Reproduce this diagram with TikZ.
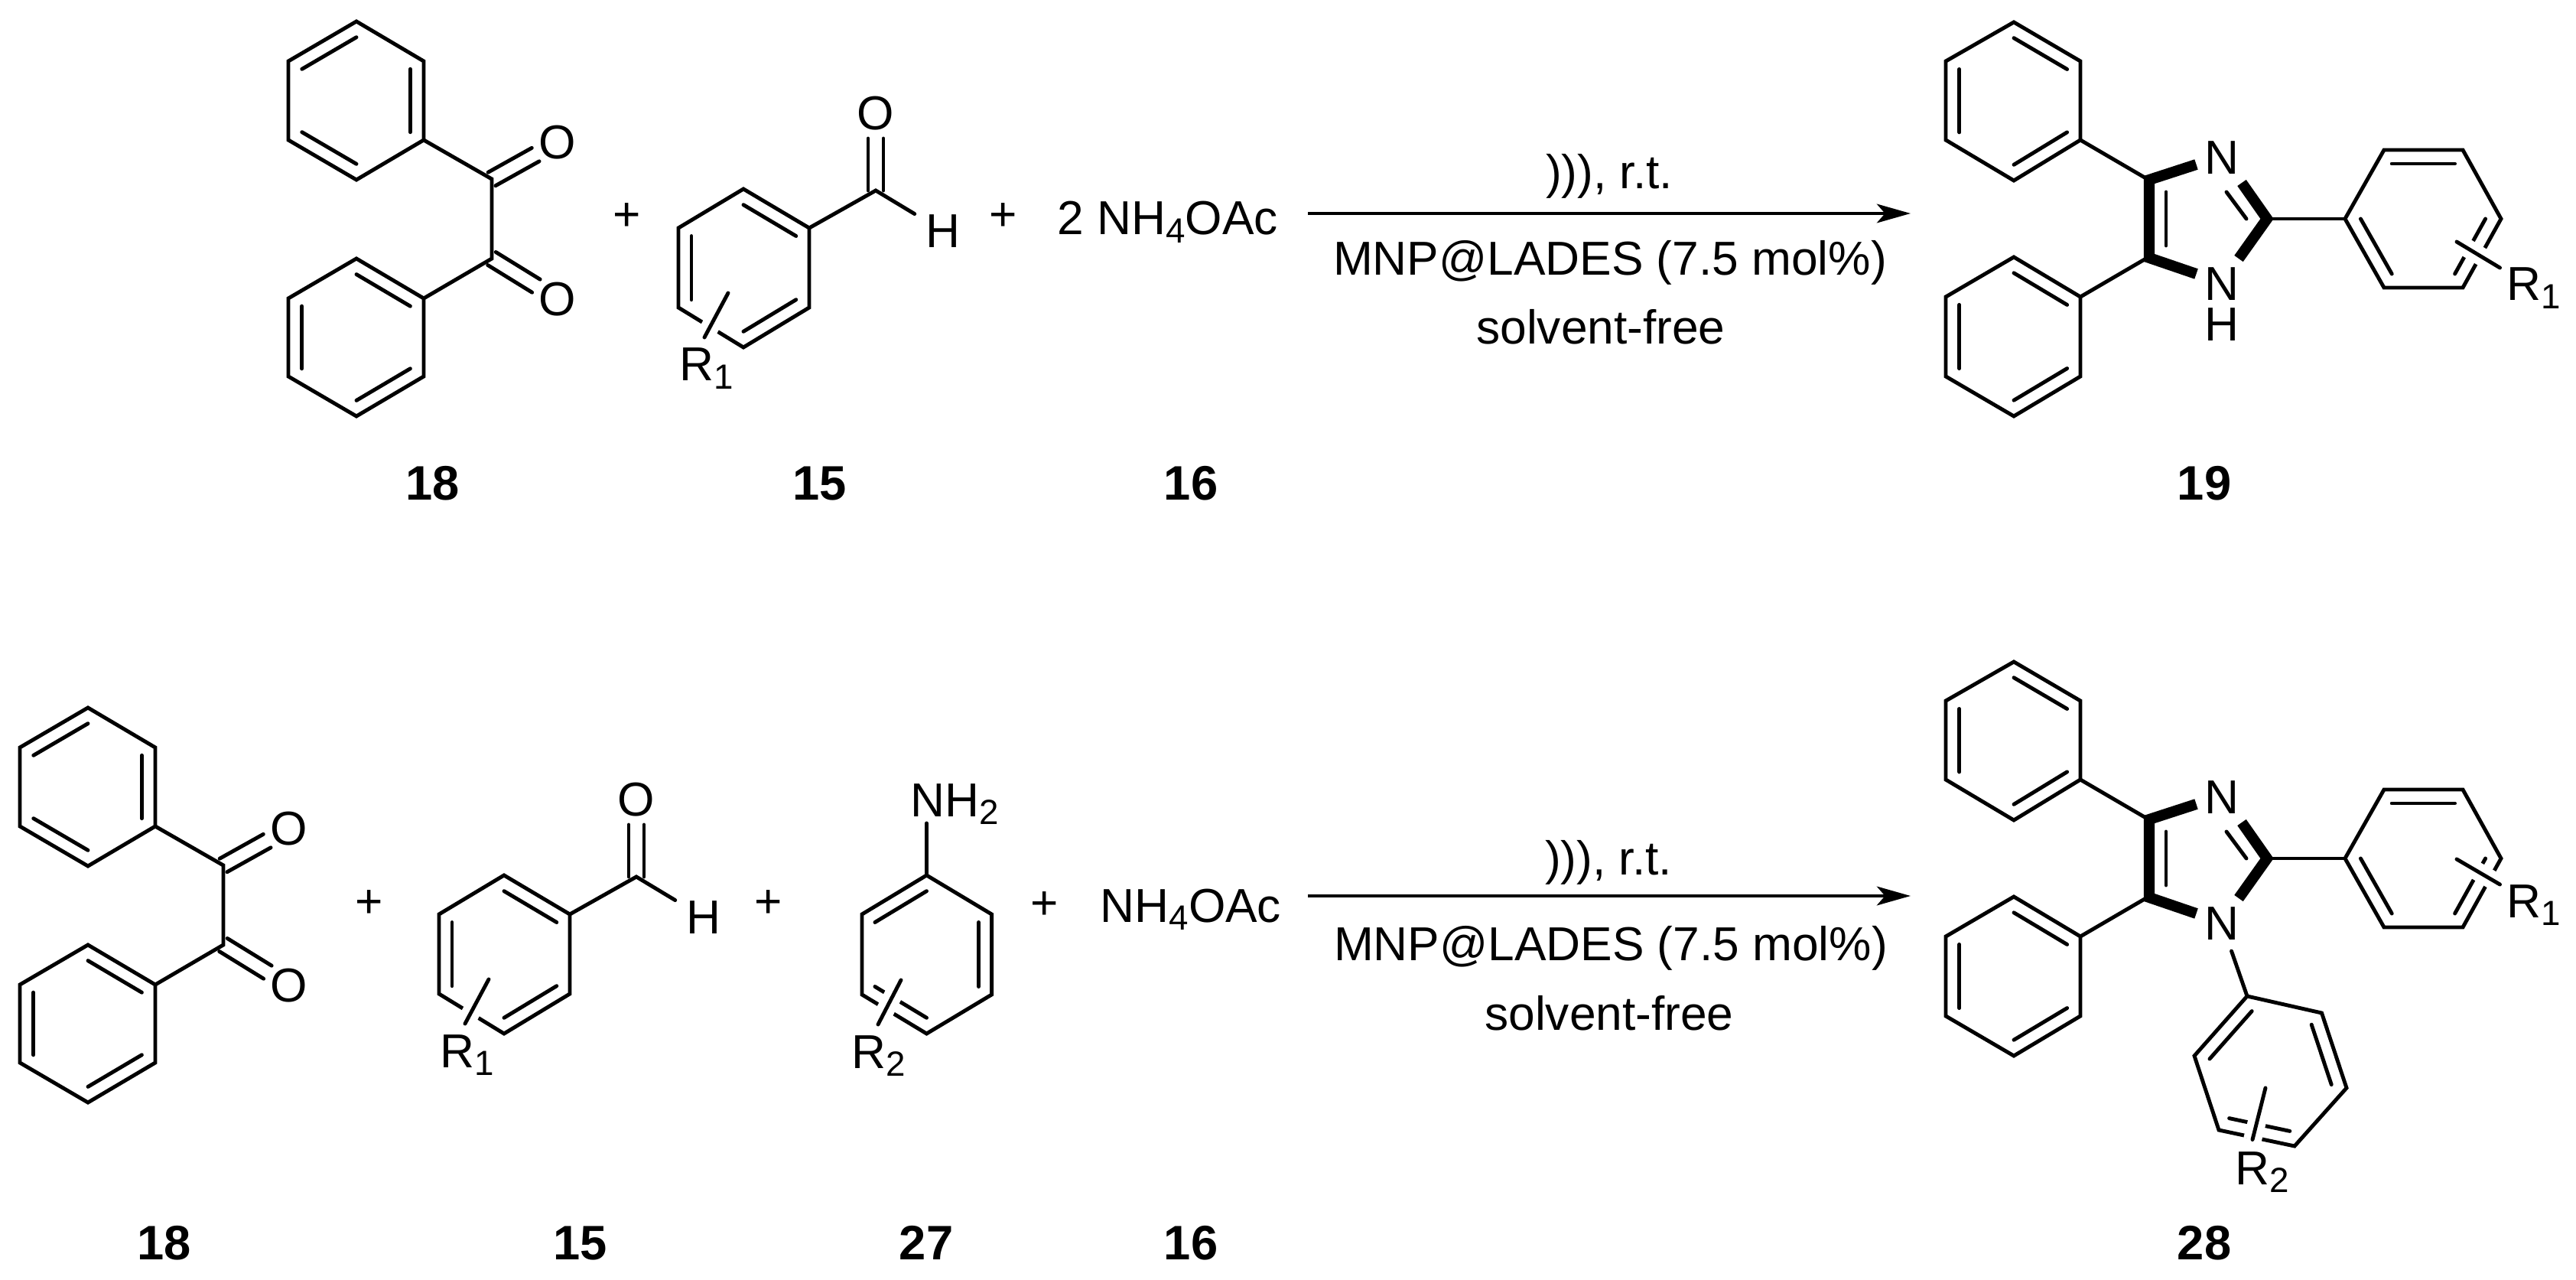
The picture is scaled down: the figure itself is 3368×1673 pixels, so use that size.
\documentclass[tikz,border=0pt]{standalone}
\usepackage{fontspec}
\setmainfont{Liberation Sans}
\usepackage{tikz}
\usetikzlibrary{calc,arrows.meta}
\newcommand{\chemfont}{\fontsize{17.7}{20}\selectfont}
\newcommand{\chemsub}[1]{\raisebox{-1.05mm}{\fontsize{13}{14}\selectfont #1}}
\tikzset{%
    bond/.style={line width=1.4pt, line cap=round},
    boldbond/.style={line width=4pt},
    subbond/.style={bond, preaction={draw=white, line width=6.8pt, line cap=butt}},
    cobond/.style={bond, shorten >=0.33cm},
    atom/.style={font=\chemfont, inner sep=0pt},
    group/.style={font=\chemfont, inner sep=0pt, anchor=base west},
    cond/.style={font=\chemfont, inner sep=0pt, anchor=base},
    cpd/.style={font=\fontsize{18}{20}\selectfont\bfseries, inner sep=0pt, anchor=base},
    rarrow/.style={line width=1.4pt, -{Stealth[length=12.5pt,width=7pt,inset=3pt]}}
}
% name, six corners, then the inner lines as pairs of corners
\newcommand{\ring}[8]{%
    \coordinate (#1-1) at (#2);
    \coordinate (#1-2) at (#3);
    \coordinate (#1-3) at (#4);
    \coordinate (#1-4) at (#5);
    \coordinate (#1-5) at (#6);
    \coordinate (#1-6) at (#7);
    \coordinate (#1-c) at ($(#1-1)!0.5!(#1-4)$);
    \draw[bond] (#1-1)--(#1-2)--(#1-3)--(#1-4)--(#1-5)--(#1-6)--cycle;
    \foreach \p/\q in {#8}
    {
    \draw[bond] ($(#1-\p)!0.2!(#1-c)$)--($(#1-\q)!0.2!(#1-c)$);
    }
}
\newcommand{\twobond}[2]{%
    \draw[cobond] ($(#1)!0.1cm!90:(#2)$)--($(#2)!0.1cm!-90:(#1)$);
    \draw[cobond] ($(#1)!0.1cm!-90:(#2)$)--($(#2)!0.1cm!90:(#1)$);
}

\begin{document}
\begin{tikzpicture}[x=0.01cm,y=-0.01cm]
    \useasboundingbox (0,0) rectangle (3368,1673);
    % diketone
    \foreach \n/\dx/\dy in {t/0/0,u/-351/897}
    {
    \begin{scope}[shift={(\dx,\dy)}]
    \ring{\n A}{466,28}{554,80}{554,183}{466,235}{377,183}{377,80}{6/1,2/3,4/5}
    \ring{\n B}{466,338}{554,390}{554,492}{466,544}{377,492}{377,390}{1/2,3/4,5/6}
    \coordinate (\n C1) at (643,234);
    \coordinate (\n C2) at (643,338);
    \node[atom] (\n O1) at (729,186) {O};
    \node[atom] (\n O2) at (729,391) {O};
    \draw[bond] (\n A-3)--(\n C1)--(\n C2)--(\n B-2);
    \twobond{\n C1}{\n O1}
    \twobond{\n C2}{\n O2}
    \end{scope}
    }
    % aldehyde
    \foreach \n/\dx/\dy in {t/0/0,u/-313/897}
    {
    \begin{scope}[shift={(\dx,\dy)}]
    \ring{\n D}{972,247}{1058,298}{1058,402}{972,454}{887,402}{887,298}{1/2,3/4,5/6}
    \coordinate (\n C3) at (1145,249);
    \node[atom] (\n O3) at (1145,148) {O};
    \node[atom, inner sep=4pt] (\n H3) at (1233,302) {H};
    \draw[bond] (\n D-2)--(\n C3)--(\n H3);
    \twobond{\n C3}{\n O3}
    \coordinate (\n r1a) at (952,383);
    \coordinate (\n r1b) at (921,441);
    \draw[subbond] (\n r1a)--(\n r1b);
    \node[group] (\n R1) at (888,498) {R\chemsub{1}};
    \end{scope}
    }
    % imidazole
    \foreach \n/\dy in {t/0,u/836}
    {
    \begin{scope}[shift={(0,\dy)}]
    \ring{\n E}{2633,29}{2720,80}{2720,183}{2633,236}{2544,183}{2544,80}{1/2,3/4,5/6}
    \ring{\n F}{2633,336}{2720,388}{2720,492}{2633,544}{2544,492}{2544,388}{1/2,3/4,5/6}
    \ring{\n G}{3066,286}{3117,196}{3220,196}{3270,286}{3220,376}{3117,376}{2/3,4/5,6/1}
    \coordinate (\n C4) at (2804,232);
    \coordinate (\n C5) at (2804,339);
    \coordinate (\n C6) at (2971,286);
    \coordinate (\n p1) at (2871.5,215);
    \coordinate (\n p2) at (2810,235);
    \coordinate (\n p3) at (2810,337);
    \coordinate (\n p4) at (2871.5,358);
    \coordinate (\n q1) at (2931,239);
    \coordinate (\n q2) at (2964,286);
    \coordinate (\n q3) at (2927,338);
    \coordinate (\n s1) at (2832,251);
    \coordinate (\n s2) at (2832,321);
    \coordinate (\n s3) at (2911,251);
    \coordinate (\n s4) at (2937,286);
    \node[atom] (\n N3) at (2905,206) {N};
    \node[atom] (\n N1) at (2905,371) {N};
    \draw[bond] (\n E-3)--(\n C4);
    \draw[bond] (\n F-2)--(\n C5);
    \draw[bond] (\n C6)--(\n G-1);
    \draw[boldbond] (\n p1)--(\n p2)--(\n p3)--(\n p4);
    \draw[boldbond] (\n q1)--(\n q2)--(\n q3);
    \draw[bond] (\n s1)--(\n s2);
    \draw[bond] (\n s3)--(\n s4);
    \end{scope}
    }
    \node[atom] (tH1) at (2905,424) {H};
    \coordinate (tr2a) at (3212,316);
    \coordinate (tr2b) at (3268.5,350);
    \draw[subbond] (tr2a)--(tr2b);
    \node[group] (tR2) at (3277,393) {R\chemsub{1}};
    \coordinate (ur2a) at (3212,1123);
    \coordinate (ur2b) at (3268.5,1156);
    \draw[subbond] (ur2a)--(ur2b);
    \node[group] (uR2) at (3277,1199) {R\chemsub{1}};
    % N-aryl
    \ring{uH}{2938,1302}{3035.5,1324}{3068,1422}{3000,1498}{2901,1477}{2869,1380}{1/6,2/3,4/5}
    \draw[bond, shorten <=4.2pt] (uN1)--(uH-1);
    \coordinate (ur3a) at (2962,1422);
    \coordinate (ur3b) at (2945,1489.5);
    \draw[subbond] (ur3a)--(ur3b);
    \node[group] (uR3) at (2922,1548) {R\chemsub{2}};
    % aniline
    \ring{uK}{1211.5,1144}{1296.6,1195}{1296.6,1300}{1211.5,1351}{1127,1300}{1127,1195}{1/6,2/3,4/5}
    \node[group] (uNH) at (1190,1067) {NH\chemsub{2}};
    \coordinate (uNHb) at (1211.5,1076);
    \draw[bond] (uNHb)--(uK-1);
    \coordinate (ur4a) at (1178,1281);
    \coordinate (ur4b) at (1148,1339);
    \draw[subbond] (ur4a)--(ur4b);
    \node[group] (uR4) at (1113,1396) {R\chemsub{2}};
    % plus signs and ammonium acetate
    \node[atom] (tplus1) at (820,284) {+};
    \node[atom] (tplus2) at (1312,284) {+};
    \node[atom] (uplus1) at (483,1182) {+};
    \node[atom] (uplus2) at (1005,1182) {+};
    \node[atom] (uplus3) at (1366,1184) {+};
    \node[group] (tAm) at (1382,306.5) {2 NH\chemsub{4}OAc};
    \node[group] (uAm) at (1438,1205) {NH\chemsub{4}OAc};
    % arrows
    \coordinate (tArr1) at (1710,279);
    \coordinate (tArr2) at (2498,279);
    \draw[rarrow] (tArr1)--(tArr2);
    \node[cond] (tCa) at (2104,247) {))), r.t.};
    \node[cond] (tCb) at (2105,360) {MNP@LADES (7.5 mol\%)};
    \node[cond] (tCc) at (2093,450) {solvent-free};
    \coordinate (uArr1) at (1710,1171);
    \coordinate (uArr2) at (2498,1171);
    \draw[rarrow] (uArr1)--(uArr2);
    \node[cond] (uCa) at (2103,1143) {))), r.t.};
    \node[cond] (uCb) at (2106,1255) {MNP@LADES (7.5 mol\%)};
    \node[cond] (uCc) at (2104,1346) {solvent-free};
    % compound numbers
    \node[cpd] (t18) at (566,653) {18};
    \node[cpd] (t15) at (1072,653) {15};
    \node[cpd] (t16) at (1557,653) {16};
    \node[cpd] (t19) at (2882,653) {19};
    \node[cpd] (u18) at (215,1646) {18};
    \node[cpd] (u15) at (759,1646) {15};
    \node[cpd] (u27) at (1211,1646) {27};
    \node[cpd] (u16) at (1557,1646) {16};
    \node[cpd] (u28) at (2882,1646) {28};
\end{tikzpicture}
\end{document}
